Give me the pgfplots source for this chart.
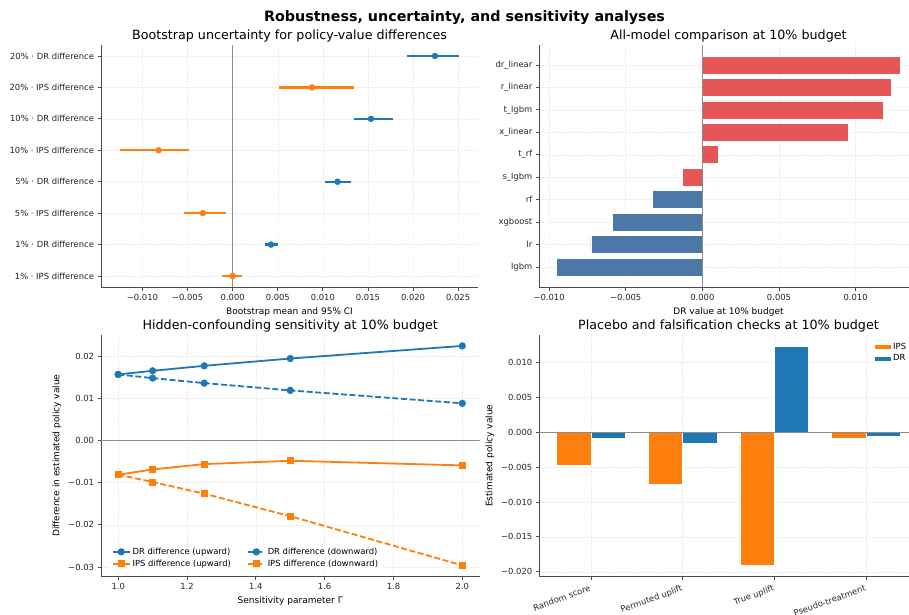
\documentclass[border=0pt]{standalone}
\usepackage{fontspec}
\setmainfont{DejaVu Sans}
\usepackage{pgfplots}
\pgfplotsset{compat=1.18}
\definecolor{tabblue}{HTML}{1F77B4}
\definecolor{taborange}{HTML}{FF7F0E}
\definecolor{vblue}{HTML}{4C78A8}
\definecolor{vred}{HTML}{E45756}
\newcommand{\tickfont}{\fontsize{8.4}{10}\selectfont}
\newcommand{\labfont}{\fontsize{9}{11}\selectfont}
\newcommand{\titfont}{\fontsize{12.7}{15}\selectfont}
\pgfplotsset{
  myaxis/.style={
    scale only axis, width=378pt, height=242pt, anchor=south west,
    axis x line*=bottom, axis y line*=left,
    axis line style={-, black!70, line width=0.8pt},
    tick style={black!70, line width=0.8pt},
    tick align=outside, major tick length=3.5pt,
    ticklabel style={font=\tickfont, text=black!85},
    label style={font=\labfont},
    title style={font=\titfont, yshift=-7pt},
    grid=major, grid style={dash pattern=on 1.5pt off 1.5pt, black!8, line width=0.5pt},
    scaled ticks=false,
    /pgf/number format/assume math mode=true,
  }
}
\begin{document}
\begin{tikzpicture}
\begin{scope}
\clip (0pt,0pt) rectangle (909pt,614pt);
\node[font=\bfseries\fontsize{14.3}{16}\selectfont] at (464.5pt,596.5pt) {Robustness, uncertainty, and sensitivity analyses};

% ---------- Top left ----------
\begin{axis}[myaxis, at={(101pt,327pt)}, width=377pt,
  xmin=-0.0146, xmax=0.0272, ymin=-0.35, ymax=7.35,
  xtick={-0.01,-0.005,0,0.005,0.01,0.015,0.02,0.025},
  xticklabels={−0.010,−0.005,0.000,0.005,0.010,0.015,0.020,0.025},
  ytick={0,1,2,3,4,5,6,7},
  yticklabels={1\% · IPS difference,1\% · DR difference,5\% · IPS difference,5\% · DR difference,10\% · IPS difference,10\% · DR difference,20\% · IPS difference,20\% · DR difference},
  xlabel={Bootstrap mean and 95\% CI},
  title={Bootstrap uncertainty for policy-value differences},
  unbounded coords=jump,
]
\addplot[black!45, line width=1pt, forget plot] coordinates {(0,-0.35) (0,7.35)};
% 95% CI segments
\addplot[tabblue, line width=2.4pt] coordinates {
  (0.00363,1) (0.00498,1) (nan,nan)
  (0.01021,3) (0.01315,3) (nan,nan)
  (0.01348,5) (0.01781,5) (nan,nan)
  (0.0193,7) (0.02504,7)};
\addplot[taborange, line width=2.4pt] coordinates {
  (-0.00113,0) (0.00105,0) (nan,nan)
  (-0.00541,2) (-0.00069,2) (nan,nan)
  (-0.01254,4) (-0.00483,4) (nan,nan)
  (0.00509,6) (0.01348,6)};
% bootstrap means
\addplot[only marks, mark=*, mark size=3pt, color=tabblue] coordinates {
  (0.00425,1) (0.01163,3) (0.01533,5) (0.02242,7)};
\addplot[only marks, mark=*, mark size=3pt, color=taborange] coordinates {
  (0.0,0) (-0.00331,2) (-0.00821,4) (0.00879,6)};
\end{axis}

% ---------- Top right ----------
\begin{axis}[myaxis, at={(539.3pt,327pt)}, width=378.4pt,
  xmin=-0.01064, xmax=0.01405, ymin=-0.89, ymax=9.89,
  xtick={-0.01,-0.005,0,0.005,0.01},
  xticklabels={−0.010,−0.005,0.000,0.005,0.010},
  ytick={0,1,2,3,4,5,6,7,8,9},
  yticklabels={lgbm,lr,xgboost,rf,s\_lgbm,t\_rf,x\_linear,t\_lgbm,r\_linear,dr\_linear},
  xlabel={DR value at 10\% budget},
  title={All-model comparison at 10\% budget},
]
\addplot[xbar, bar width=0.8, bar shift=0pt, fill=vblue, draw=white, line width=0.6pt] coordinates {
  (-0.00952,0) (-0.00728,1) (-0.00585,2) (-0.00326,3)};
\addplot[xbar, bar width=0.8, bar shift=0pt, fill=vred, draw=white, line width=0.6pt] coordinates {
  (-0.0013,4) (0.00102,5) (0.00952,6) (0.01178,7) (0.01235,8) (0.01293,9)};
\addplot[black!45, line width=1pt] coordinates {(0,-0.89) (0,9.89)};
\end{axis}

% ---------- Bottom left ----------
\begin{axis}[myaxis, at={(101pt,37.3pt)}, width=378.5pt,
  xmin=0.95, xmax=2.05, ymin=-0.0323, ymax=0.0251,
  xtick={1.0,1.2,1.4,1.6,1.8,2.0},
  xticklabels={1.0,1.2,1.4,1.6,1.8,2.0},
  ytick={-0.03,-0.02,-0.01,0,0.01,0.02},
  yticklabels={−0.03,−0.02,−0.01,0.00,0.01,0.02},
  xlabel={Sensitivity parameter Γ},
  ylabel={Difference in estimated policy value},
  title={Hidden-confounding sensitivity at 10\% budget},
  legend columns=2, legend cell align=left,
  legend style={draw=none, fill=white, at={(0.02,0.02)}, anchor=south west,
    font=\fontsize{8.4}{10}\selectfont,
    /tikz/every even column/.append style={column sep=14pt}},
]
\addplot[black!45, line width=1pt, forget plot] coordinates {(0.95,0) (2.05,0)};
\addplot[tabblue, line width=1.8pt, mark=*, mark size=2.7pt] coordinates {
  (1.0,0.01567) (1.1,0.01654) (1.25,0.01772) (1.5,0.01945) (2.0,0.02244)};
\addlegendentry{DR difference (upward)}
\addplot[tabblue, line width=1.8pt, dash pattern=on 6pt off 2.6pt, mark=*, mark size=2.7pt, mark options={solid}] coordinates {
  (1.0,0.01567) (1.1,0.0148) (1.25,0.01362) (1.5,0.01189) (2.0,0.00882)};
\addlegendentry{DR difference (downward)}
\addplot[taborange, line width=1.8pt, mark=square*, mark size=2.6pt] coordinates {
  (1.0,-0.00811) (1.1,-0.00685) (1.25,-0.00559) (1.5,-0.0048) (2.0,-0.0059)};
\addlegendentry{IPS difference (upward)}
\addplot[taborange, line width=1.8pt, dash pattern=on 6pt off 2.6pt, mark=square*, mark size=2.6pt, mark options={solid}] coordinates {
  (1.0,-0.00811) (1.1,-0.00984) (1.25,-0.0126) (1.5,-0.01795) (2.0,-0.02961)};
\addlegendentry{IPS difference (downward)}
\end{axis}

% ---------- Bottom right ----------
\begin{axis}[myaxis, at={(539.3pt,37.3pt)}, width=378.4pt, height=241.7pt,
  xmin=-0.5625, xmax=3.5625, ymin=-0.0207, ymax=0.0139,
  xtick={0,1,2,3},
  xticklabels={Random score,Permuted uplift,True uplift,Pseudo-treatment},
  xticklabel style={rotate=20, anchor=north east},
  ytick={-0.02,-0.015,-0.01,-0.005,0,0.005,0.01},
  yticklabels={−0.020,−0.015,−0.010,−0.005,0.000,0.005,0.010},
  ylabel={Estimated policy value},
  title={Placebo and falsification checks at 10\% budget},
  legend cell align=left,
  legend style={draw=none, fill=white, at={(0.875,0.985)}, anchor=north west,
    font=\fontsize{8.4}{10}\selectfont},
  legend image code/.code={\fill[#1] (0pt,-2.5pt) rectangle (17pt,2.5pt);},
]
\addplot[ybar, bar width=0.375, bar shift=-0.1875, fill=taborange, draw=white, line width=0.6pt] coordinates {
  (0,-0.0047) (1,-0.00746) (2,-0.0191) (3,-0.0009)};
\addlegendentry{IPS}
\addplot[ybar, bar width=0.375, bar shift=0.1875, fill=tabblue, draw=white, line width=0.6pt] coordinates {
  (0,-0.0009) (1,-0.00166) (2,0.0123) (3,-0.00062)};
\addlegendentry{DR}
\addplot[black!45, line width=1pt, forget plot] coordinates {(-0.5625,0) (3.5625,0)};
\end{axis}
\end{scope}
\pgfresetboundingbox
\path[use as bounding box] (0pt,0pt) rectangle (909pt,614pt);
\end{tikzpicture}
\end{document}
